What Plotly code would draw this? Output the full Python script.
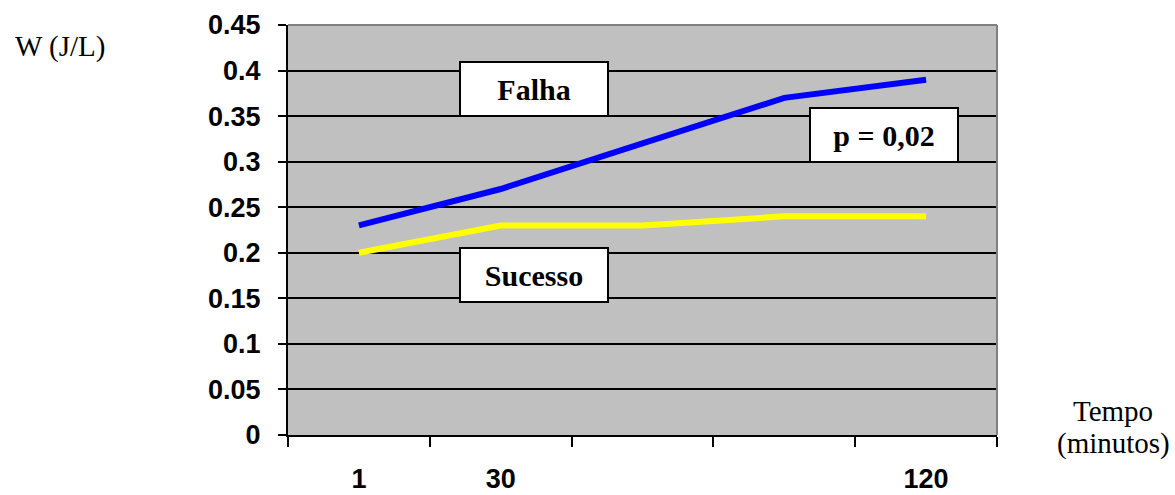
import plotly.graph_objects as go

# Time points (category positions) and their axis labels
categorias = [0, 1, 2, 3, 4]
rotulos_x = ["1", "30", "", "", "120"]

# W (J/L) for each group
falha = [0.23, 0.27, 0.32, 0.37, 0.39]
sucesso = [0.20, 0.23, 0.23, 0.24, 0.24]

# Y ticks
ticks_y = [0, 0.05, 0.1, 0.15, 0.2, 0.25, 0.3, 0.35, 0.4, 0.45]

W, H = 1175, 495
L, R, T, B = 288, 178, 25, 60

fig = go.Figure()
fig.add_trace(go.Scatter(x=categorias, y=sucesso, mode="lines",
                         line=dict(color="#FFFF00", width=6),
                         hoverinfo="skip", showlegend=False))
fig.add_trace(go.Scatter(x=categorias, y=falha, mode="lines",
                         line=dict(color="#0000FF", width=6),
                         hoverinfo="skip", showlegend=False))

sans_bold = dict(family="Liberation Sans, Arial", size=27, color="black", weight="bold")
serif = dict(family="Liberation Serif, Times New Roman", size=29, color="black")
serif_bold = dict(family="Liberation Serif, Times New Roman", size=30, color="black")

fig.update_layout(
    width=W, height=H,
    margin=dict(l=L, r=R, t=T, b=B),
    paper_bgcolor="white",
    plot_bgcolor="#C0C0C0",
    xaxis=dict(
        range=[-0.5, 4.5],
        tickmode="array", tickvals=categorias, ticktext=rotulos_x,
        ticks="", ticklabelstandoff=19,
        tickfont=sans_bold,
        showgrid=False, zeroline=False,
        showline=True, linecolor="black", linewidth=2,
        minor=dict(tickmode="array",
                   tickvals=[-0.5, 0.5, 1.5, 2.5, 3.5, 4.5],
                   ticks="outside", ticklen=10, tickwidth=2,
                   tickcolor="black", showgrid=False),
        automargin=False,
        fixedrange=True,
    ),
    yaxis=dict(
        range=[0, 0.45],
        tickmode="array", tickvals=ticks_y,
        ticktext=[f"{v:g}" for v in ticks_y],
        ticks="outside", ticklen=8, tickwidth=2, tickcolor="black",
        ticklabelstandoff=12,
        tickfont=sans_bold,
        showgrid=True, gridcolor="black", gridwidth=1.5,
        zeroline=False,
        showline=True, linecolor="black", linewidth=2,
        automargin=False,
        fixedrange=True,
    ),
)

# Gray frame on the top and right edges of the plot area
fig.add_shape(type="line", xref="paper", yref="paper", x0=0, x1=1, y0=1, y1=1,
              line=dict(color="#808080", width=2), layer="above")
fig.add_shape(type="line", xref="paper", yref="paper", x0=1, x1=1, y0=0, y1=1,
              line=dict(color="#808080", width=2), layer="above")


def px_x(px):
    return (px - L) / (W - L - R)


def px_y(py):
    return (H - B - py) / (H - T - B)


# Boxed labels inside the plot
caixas = [("Falha", 534, 89), ("Sucesso", 534, 275), ("p = 0,02", 884, 135)]
for texto, cx, cy in caixas:
    fig.add_annotation(text=f"<b>{texto}</b>", xref="paper", yref="paper",
                       x=px_x(cx), y=px_y(cy), xanchor="center", yanchor="middle",
                       showarrow=False, font=serif_bold,
                       bgcolor="white", bordercolor="black", borderwidth=2,
                       borderpad=0, width=146, height=52, align="center")

# Axis titles
fig.add_annotation(text="W (J/L)", xref="paper", yref="paper",
                   x=px_x(60), y=px_y(46), xanchor="center", yanchor="middle",
                   showarrow=False, font=serif)
fig.add_annotation(text="Tempo", xref="paper", yref="paper",
                   x=px_x(1113), y=px_y(411), xanchor="center", yanchor="middle",
                   showarrow=False, font=serif)
fig.add_annotation(text="(minutos)", xref="paper", yref="paper",
                   x=px_x(1113), y=px_y(443), xanchor="center", yanchor="middle",
                   showarrow=False, font=serif)

fig.write_html("out.html")
